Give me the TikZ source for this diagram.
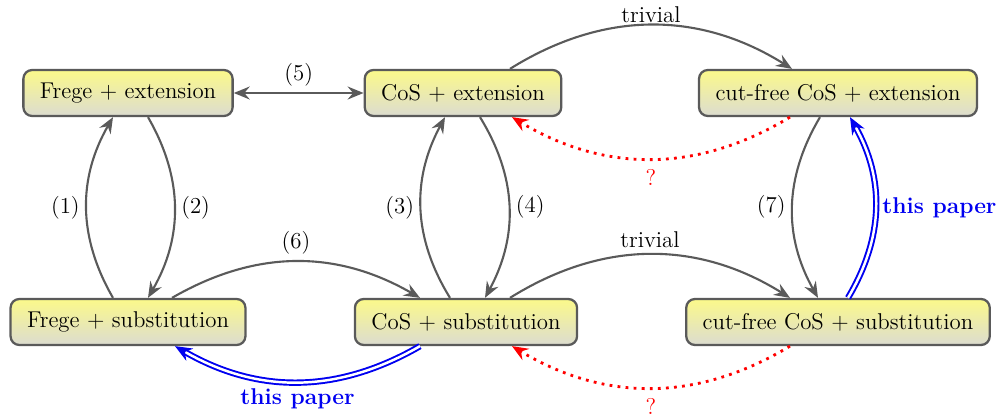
\documentclass[tikz,border=0pt]{standalone}
\usetikzlibrary{arrows.meta}

\definecolor{boxgray}{HTML}{5A5A5A}
\definecolor{boxtop}{HTML}{FBF98A}
\definecolor{boxbot}{HTML}{DCDCD0}
\definecolor{paperblue}{HTML}{0000F0}

\tikzset{
	box/.style={draw=boxgray, line width=1.3pt, rounded corners=5pt, top color=boxtop, bottom color=boxbot, minimum height=0.92cm, inner xsep=0.33cm, font=\fontsize{13}{15}\selectfont},
	lbl/.style={font=\fontsize{13}{15}\selectfont},
	arr/.style={draw=boxgray, line width=1.2pt, -{Stealth[length=3.2mm,width=2.6mm,inset=1.1mm]}},
	open/.style={draw=red, line width=1.6pt, dash pattern=on 1.6pt off 3pt, -{Stealth[length=3.2mm,width=2.6mm,inset=1.1mm,sep=0pt]}},
	ours/.style={draw=paperblue, double=white, line width=1.1pt, double distance=1.4pt, -{Stealth[length=3.4mm,width=2.8mm,inset=1.1mm]}},
	ourlbl/.style={text=paperblue, font=\fontsize{13}{15}\selectfont\bfseries}
}

\begin{document}
\begin{tikzpicture}
	\useasboundingbox (0,0) rectangle (20,8.36);

	\draw (2.56,6.5) node[box] (fe) {Frege + extension};
	\draw (9.26,6.5) node[box] (ce) {CoS + extension};
	\draw (16.76,6.5) node[box] (ke) {cut-free CoS + extension};

	\draw (2.56,1.92) node[box] (fs) {Frege + substitution};
	\draw (9.32,1.92) node[box] (cs) {CoS + substitution};
	\draw (16.76,1.92) node[box] (ks) {cut-free CoS + substitution};

	% left column
	\draw[arr] ([xshift=-0.3cm]fs.north) to[bend left=30] node[lbl, left] {(1)} ([xshift=-0.3cm]fe.south);
	\draw[arr] ([xshift=0.4cm]fe.south) to[bend left=30] node[lbl, right] {(2)} ([xshift=0.4cm]fs.north);

	% middle column
	\draw[arr] ([xshift=-0.32cm]cs.north) to[bend left=30] node[lbl, left] {(3)} ([xshift=-0.36cm]ce.south);
	\draw[arr] ([xshift=0.34cm]ce.south) to[bend left=30] node[lbl, right] {(4)} ([xshift=0.38cm]cs.north);

	% right column
	\draw[arr] ([xshift=-0.36cm]ke.south) to[bend right=30] node[lbl, left] {(7)} ([xshift=-0.4cm]ks.north);
	\draw[ours] ([xshift=0.2cm]ks.north) to[bend right=30] node[ourlbl, right] {this paper} ([xshift=0.24cm]ke.south);

	% across
	\draw[arr, {Stealth[length=3.2mm,width=2.6mm,inset=1.1mm]}-{Stealth[length=3.2mm,width=2.6mm,inset=1.1mm]}] (fe.east) -- node[lbl, above] {(5)} (ce.west);
	\draw[arr] ([xshift=0.88cm]fs.north) to[bend left=30] node[lbl, above] {(6)} ([xshift=-0.92cm]cs.north);
	\draw[arr] ([xshift=0.94cm]ce.north) to[bend left=32] node[lbl, above, inner sep=1pt] {trivial} ([xshift=-0.92cm]ke.north);
	\draw[arr] ([xshift=0.88cm]cs.north) to[bend left=32] node[lbl, above] {trivial} ([xshift=-0.96cm]ks.north);

	% open questions
	\draw[open] ([xshift=-0.96cm]ke.south) to[bend left=31] node[lbl, below, text=red, yshift=-2pt] {?} ([xshift=0.98cm]ce.south);
	\draw[open] ([xshift=-0.96cm]ks.south) to[bend left=31] node[lbl, below, text=red, yshift=-2pt] {?} ([xshift=0.92cm]cs.south);

	\draw[ours] ([xshift=-0.92cm]cs.south) to[bend left=30] node[ourlbl, below] {this paper} ([xshift=0.94cm]fs.south);
\end{tikzpicture}
\end{document}
